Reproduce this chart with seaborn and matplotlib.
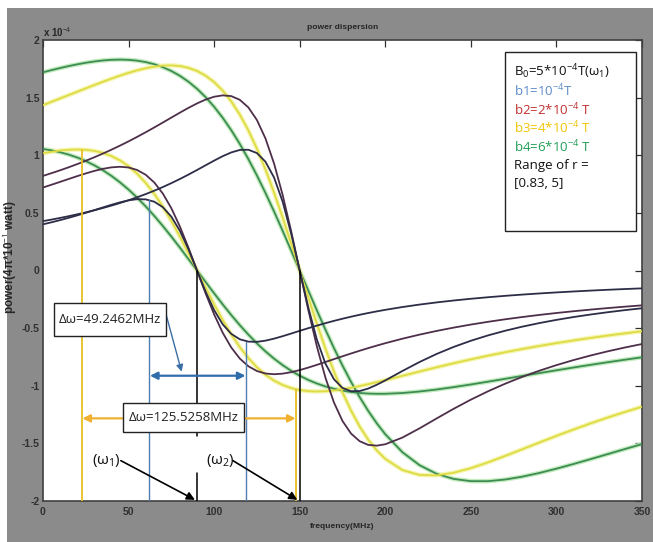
import matplotlib
matplotlib.use("Agg")
import matplotlib.pyplot as plt
from matplotlib import font_manager
import seaborn as sns
import pandas as pd
from matplotlib.patches import Rectangle

# ---------------- data (frequency in MHz, power in units of 1e-4) ----------------
freq_grid = [0, 5, 10, 15, 20, 25, 30, 35, 40, 45,
             50, 55, 60, 65, 70, 75, 80, 85, 90, 95,
             100, 105, 110, 115, 120, 125, 130, 135, 140, 145,
             150, 155, 160, 165, 170, 175, 180, 185, 190, 195,
             200,
             210, 220, 230, 240, 250, 260, 270, 280, 290, 300,
             310, 320, 330, 340, 350]

# b1, centred on w1 (~90 MHz)
b1_w1_power = [0.4008, 0.4184, 0.4371, 0.4571, 0.4783, 0.5005, 0.5236, 0.5471, 0.5701, 0.5913,
               0.6087, 0.6189, 0.6172, 0.5969, 0.5496, 0.4671, 0.3442, 0.1837, 0.0, -0.1837,
               -0.3442, -0.4671, -0.5496, -0.5969, -0.6172, -0.6189, -0.6087, -0.5913, -0.5701, -0.5471,
               -0.5236, -0.5005, -0.4783, -0.4571, -0.4371, -0.4184, -0.4008, -0.3843, -0.3690, -0.3547,
               -0.3413,
               -0.3170, -0.2957, -0.2769, -0.2602, -0.2453, -0.2320, -0.2199, -0.2091, -0.1992, -0.1902,
               -0.1819, -0.1743, -0.1673, -0.1609, -0.1549]
# b1, centred on w2 (~150 MHz)
b1_w2_power = [0.4285, 0.4419, 0.4562, 0.4713, 0.4874, 0.5045, 0.5228, 0.5424, 0.5632, 0.5856,
               0.6096, 0.6353, 0.6629, 0.6924, 0.7241, 0.7580, 0.7941, 0.8322, 0.8720, 0.9128,
               0.9535, 0.9918, 1.0244, 1.0458, 1.0478, 1.0188, 0.9438, 0.8070, 0.5979, 0.3203,
               0.0, -0.3203, -0.5979, -0.8070, -0.9438, -1.0188, -1.0478, -1.0458, -1.0244, -0.9918,
               -0.9535,
               -0.8720, -0.7941, -0.7241, -0.6629, -0.6096, -0.5632, -0.5228, -0.4874, -0.4562, -0.4285,
               -0.4038, -0.3818, -0.3619, -0.3439, -0.3276]
# b2
b2_w1_power = [0.72, 0.7443, 0.7691, 0.7941, 0.8188, 0.8424, 0.8640, 0.8822, 0.8950, 0.9,
               0.8938, 0.8723, 0.8308, 0.7642, 0.6680, 0.54, 0.3812, 0.1976, 0.0, -0.1976,
               -0.3812, -0.54, -0.6680, -0.7642, -0.8308, -0.8723, -0.8938, -0.9, -0.8950, -0.8822,
               -0.8640, -0.8424, -0.8188, -0.7941, -0.7691, -0.7443, -0.72, -0.6964, -0.6736, -0.6517,
               -0.6308,
               -0.5918, -0.5564, -0.5244, -0.4954, -0.4691, -0.4453, -0.4235, -0.4037, -0.3855, -0.3688,
               -0.3534, -0.3392, -0.3260, -0.3138, -0.3025]
b2_w2_power = [0.8211, 0.8447, 0.8695, 0.8957, 0.9232, 0.9521, 0.9826, 1.0146, 1.0483, 1.0836,
               1.1206, 1.1593, 1.1995, 1.2411, 1.2837, 1.3268, 1.3697, 1.4112, 1.4497, 1.4829,
               1.5077, 1.5196, 1.5131, 1.4810, 1.4150, 1.3057, 1.1452, 0.9285, 0.6570, 0.3411,
               0.0, -0.3411, -0.6570, -0.9285, -1.1452, -1.3057, -1.4150, -1.4810, -1.5131, -1.5196,
               -1.5077,
               -1.4497, -1.3697, -1.2837, -1.1995, -1.1206, -1.0483, -0.9826, -0.9232, -0.8695, -0.8211,
               -0.7772, -0.7374, -0.7012, -0.6682, -0.6379]
# b3
b3_w1_power = [1.0177, 1.0305, 1.0407, 1.0475, 1.05, 1.0471, 1.0376, 1.0202, 0.9932, 0.9552,
               0.9046, 0.84, 0.7603, 0.6652, 0.5547, 0.4302, 0.294, 0.1492, 0.0, -0.1492,
               -0.294, -0.4302, -0.5547, -0.6652, -0.7603, -0.84, -0.9046, -0.9552, -0.9932, -1.0202,
               -1.0376, -1.0471, -1.05, -1.0475, -1.0407, -1.0305, -1.0177, -1.0029, -0.9866, -0.9692,
               -0.9512,
               -0.9140, -0.8766, -0.84, -0.8047, -0.7711, -0.7393, -0.7094, -0.6812, -0.6548, -0.63,
               -0.6068, -0.5849, -0.5645, -0.5453, -0.5272]
b3_w2_power = [1.4353, 1.4638, 1.4927, 1.5218, 1.5511, 1.5803, 1.6092, 1.6375, 1.6649, 1.6909,
               1.7150, 1.7366, 1.7548, 1.7689, 1.7777, 1.7798, 1.7740, 1.7584, 1.7314, 1.6908,
               1.6346, 1.5607, 1.4672, 1.3526, 1.2158, 1.0567, 0.8762, 0.6763, 0.4605, 0.2332,
               0.0, -0.2332, -0.4605, -0.6763, -0.8762, -1.0567, -1.2158, -1.3526, -1.4672, -1.5607,
               -1.6346,
               -1.7314, -1.7740, -1.7777, -1.7548, -1.7150, -1.6649, -1.6092, -1.5511, -1.4927, -1.4353,
               -1.3797, -1.3264, -1.2757, -1.2276, -1.1821]
# b4
b4_w1_power = [1.0542, 1.0423, 1.0263, 1.0058, 0.9804, 0.9496, 0.9129, 0.8701, 0.8208, 0.7647,
               0.7019, 0.6323, 0.5563, 0.4741, 0.3865, 0.2942, 0.1983, 0.0998, 0.0, -0.0998,
               -0.1983, -0.2942, -0.3865, -0.4741, -0.5563, -0.6323, -0.7019, -0.7647, -0.8208, -0.8701,
               -0.9129, -0.9496, -0.9804, -1.0058, -1.0263, -1.0423, -1.0542, -1.0625, -1.0676, -1.0698,
               -1.0696,
               -1.0630, -1.0500, -1.0325, -1.0117, -0.9889, -0.9648, -0.9400, -0.9150, -0.8901, -0.8657,
               -0.8417, -0.8184, -0.7959, -0.7741, -0.7531]
b4_w2_power = [1.7195, 1.7387, 1.7568, 1.7737, 1.7890, 1.8025, 1.8138, 1.8225, 1.8280, 1.8300,
               1.8278, 1.8209, 1.8085, 1.7899, 1.7644, 1.7311, 1.6892, 1.6380, 1.5766, 1.5044,
               1.4207, 1.3252, 1.2176, 1.0980, 0.9668, 0.8247, 0.6727, 0.5124, 0.3454, 0.1739,
               0.0, -0.1739, -0.3454, -0.5124, -0.6727, -0.8247, -0.9668, -1.0980, -1.2176, -1.3252,
               -1.4207,
               -1.5766, -1.6892, -1.7644, -1.8085, -1.8278, -1.8280, -1.8138, -1.7890, -1.7568, -1.7195,
               -1.6789, -1.6364, -1.5930, -1.5494, -1.5063]

x_ticks = [0, 50, 100, 150, 200, 250, 300, 350]
x_tick_labels = ["0", "50", "100", "150", "200", "250", "300", "350"]
y_ticks = [-2, -1.5, -1, -0.5, 0, 0.5, 1, 1.5, 2]
y_tick_labels = ["-2", "-1.5", "-1", "-0.5", "0", "0.5", "1", "1.5", "2"]

legend_lines = ["B$_0$=5*10$^{-4}$T(ω$_1$)", "b1=10$^{-4}$T", "b2=2*10$^{-4}$ T",
                "b3=4*10$^{-4}$ T", "b4=6*10$^{-4}$ T", "Range of r =", "[0.83, 5]"]

# ---------------- styling ----------------
sns.set_style("white")
plt.rcParams["mathtext.fontset"] = "custom"
plt.rcParams["mathtext.rm"] = "Open Sans"
plt.rcParams["mathtext.it"] = "Open Sans"
plt.rcParams["font.family"] = ["Open Sans", "DejaVu Sans"]

available = {f.name for f in font_manager.fontManager.ttflist}
if "Liberation Sans Narrow" in available:
    NARROW = ["Liberation Sans Narrow", "DejaVu Sans"]
    small_scale = 1.0
else:
    NARROW = ["Liberation Sans", "DejaVu Sans"]
    small_scale = 0.87

NAVY = "#2d2d48"
PURPLE = "#4e2f4a"
YELLOW = "#dedc45"
YELLOW_HALO = "#f4f4a6"
GREEN = "#3d8c55"
GREEN_HALO = "#bdeab4"

series = [
    ("b4 w1", b4_w1_power, GREEN, GREEN_HALO),
    ("b4 w2", b4_w2_power, GREEN, GREEN_HALO),
    ("b3 w1", b3_w1_power, YELLOW, YELLOW_HALO),
    ("b3 w2", b3_w2_power, YELLOW, YELLOW_HALO),
    ("b2 w1", b2_w1_power, PURPLE, None),
    ("b2 w2", b2_w2_power, PURPLE, None),
    ("b1 w1", b1_w1_power, NAVY, None),
    ("b1 w2", b1_w2_power, NAVY, None),
]

fig = plt.figure(figsize=(6.53, 5.42), dpi=100, facecolor="white")
fig.patches.append(Rectangle((7 / 653, 0), 1, 1 - 8 / 542, transform=fig.transFigure,
                             facecolor="#8b8b8b", edgecolor="none", zorder=-10))
ax = fig.add_axes([43 / 653, 1 - 501 / 542, 599 / 653, 461 / 542])
ax.set_facecolor("white")

for name, py, col, halo in series:
    df = pd.DataFrame({"freq": freq_grid, "power": py})
    if halo is not None:
        sns.lineplot(data=df, x="freq", y="power", ax=ax, color=halo, linewidth=3.2,
                     sort=False, estimator=None, legend=False, alpha=0.9, zorder=2)
    sns.lineplot(data=df, x="freq", y="power", ax=ax, color=col, linewidth=1.3,
                 sort=False, estimator=None, legend=False, zorder=3)

ax.set_xlim(0, 350)
ax.set_ylim(-2, 2)
ax.set_xticks(x_ticks)
ax.set_xticklabels(x_tick_labels, family=NARROW, fontsize=7.5, fontweight="bold")
ax.set_yticks(y_ticks)
ax.set_yticklabels(y_tick_labels, family=NARROW, fontsize=7.5, fontweight="bold")
ax.tick_params(direction="in", length=5, width=0.9, top=True, right=True, pad=2.5,
               colors="#303030")
ax.tick_params(axis="x", pad=4)
for s in ax.spines.values():
    s.set_color("#404040")
    s.set_linewidth(1.2)

ax.set_xlabel("frequency(MHz)", family=NARROW, fontsize=7 * small_scale, fontweight="bold")
ax.xaxis.set_label_coords(0.5, -0.048)
ax.set_ylabel("power(4π*10$^{-1}$ watt)", family=["Liberation Sans", "DejaVu Sans"],
              fontsize=8.5, fontweight="bold")
ax.yaxis.set_label_coords(-0.040, 0.53)
ax.text(0.5, 1.028, "power dispersion", transform=ax.transAxes, ha="center", va="center",
        family=NARROW, fontsize=7 * small_scale, fontweight="bold")
ax.text(0.0, 1.018, "x 10$^{-4}$", transform=ax.transAxes, ha="left", va="center",
        family=NARROW, fontsize=7, fontweight="bold")

# ---------------- annotations ----------------
BLUE_LINE = "#4f7fb0"
GOLD_LINE = "#e8bf22"
ax.plot([90, 90], [-2, -1.76], color="black", lw=1.1, zorder=4)
ax.plot([90, 90], [-1.44, 0], color="black", lw=1.1, zorder=4)
ax.plot([150, 150], [-2, 0], color="black", lw=1.1, zorder=4)
ax.plot([62, 62], [-2, 0.61], color=BLUE_LINE, lw=1.0, zorder=4)
ax.plot([118.6, 118.6], [-2, -0.62], color=BLUE_LINE, lw=1.0, zorder=4)
ax.plot([22.6, 22.6], [-2, 1.046], color=GOLD_LINE, lw=1.3, zorder=4)
ax.plot([148, 148], [-2, -1.04], color=GOLD_LINE, lw=1.3, zorder=4)

ax.annotate("", xy=(62.5, -0.913), xytext=(118.3, -0.913),
            arrowprops=dict(arrowstyle="<|-|>", color="#2f6cab", lw=1.6, mutation_scale=11,
                            shrinkA=0, shrinkB=0), zorder=5)
ax.annotate("", xy=(23, -1.283), xytext=(147.6, -1.283),
            arrowprops=dict(arrowstyle="<|-|>", color="#f0b030", lw=1.6, mutation_scale=11,
                            shrinkA=0, shrinkB=0), zorder=5)

# callout boxes
ax.add_patch(Rectangle((6.6, -0.566), 65.1, 0.281, facecolor="white", edgecolor="#222222",
                       lw=1.0, zorder=6))
ax.text(39.2, -0.425, "Δω=49.2462MHz", ha="center", va="center", fontsize=9.5, zorder=7,
        color="#222222")
ax.add_patch(Rectangle((46.6, -1.399), 70.9, 0.247, facecolor="white", edgecolor="#222222",
                       lw=1.0, zorder=6))
ax.text(82.0, -1.275, "Δω=125.5258MHz", ha="center", va="center", fontsize=9.5, zorder=7,
        color="#222222")
ax.annotate("", xy=(81, -0.878), xytext=(71.7, -0.37),
            arrowprops=dict(arrowstyle="-|>", color="#3a6ea5", lw=1.0, mutation_scale=10,
                            shrinkA=0, shrinkB=0), zorder=5)

ax.text(37, -1.645, "(ω$_1$)", ha="center", va="center", fontsize=11, zorder=7, color="#111111")
ax.text(103.5, -1.645, "(ω$_2$)", ha="center", va="center", fontsize=11, zorder=7, color="#111111")
ax.annotate("", xy=(88.8, -1.99), xytext=(45.5, -1.65),
            arrowprops=dict(arrowstyle="-|>", color="black", lw=1.2, mutation_scale=12,
                            shrinkA=0, shrinkB=0), zorder=5)
ax.annotate("", xy=(148.6, -1.99), xytext=(111, -1.65),
            arrowprops=dict(arrowstyle="-|>", color="black", lw=1.2, mutation_scale=12,
                            shrinkA=0, shrinkB=0), zorder=5)

# legend box
ax.add_patch(Rectangle((270, 0.345), 76.6, 1.554, facecolor="white", edgecolor="#222222",
                       lw=1.0, zorder=6))
legend_colors = ["#111111", "#5b8bc9", "#c0302e", "#f0c400", "#1f9e55", "#111111", "#111111"]
legend_y = [1.725, 1.558, 1.393, 1.234, 1.075, 0.910, 0.757]
for txt, col, yy in zip(legend_lines, legend_colors, legend_y):
    ax.text(275.3, yy, txt, ha="left", va="center", fontsize=9.5, color=col, zorder=7)

fig.savefig("out.png", dpi=100, facecolor=fig.get_facecolor())
